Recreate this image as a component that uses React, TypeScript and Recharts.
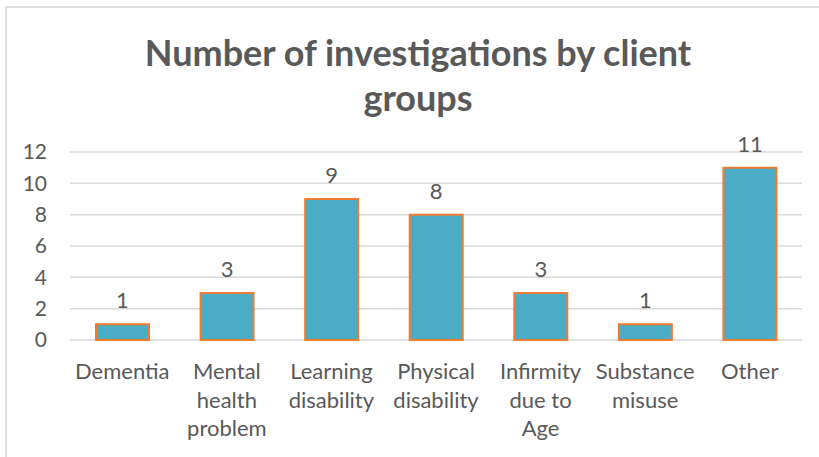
import { Bar, BarChart, CartesianGrid, LabelList, XAxis, YAxis } from 'recharts';

const categories = [
    'Dementia',
    'Mental health problem',
    'Learning disability',
    'Physical disability',
    'Infirmity due to Age',
    'Substance misuse',
    'Other',
];
const investigations = [1, 3, 9, 8, 3, 1, 11];
const yTicks = [0, 2, 4, 6, 8, 10, 12];
const titleLines = ['Number of investigations by client', 'groups'];

const data = categories.map((name, i) => ({ name, value: investigations[i] }));

const FONT = 'Lato, "Open Sans", sans-serif';
const TEXT = '#595959';

// simple word wrap, roughly like Excel does in the narrow category slots
function wrap(label: string, maxChars = 9) {
    const lines: string[] = [];
    let cur = '';
    for (const w of label.split(' ')) {
        const next = cur ? cur + ' ' + w : w;
        if (next.length > maxChars && cur) {
            lines.push(cur);
            cur = w;
        } else {
            cur = next;
        }
    }
    if (cur) lines.push(cur);
    return lines;
}

function CategoryTick(props: any) {
    const { x, y, payload } = props;
    const lines = wrap(String(payload.value));
    return (
        <text x={x} y={y} textAnchor="middle" fill={TEXT} fontSize={22} fontFamily={FONT}>
            {lines.map((l, i) => (
                <tspan key={i} x={x} y={y + 31 + i * 28.5}>
                    {l}
                </tspan>
            ))}
        </text>
    );
}

export default function App() {
    return (
        <div style={{ position: 'absolute', left: 0, top: 0, width: 819, height: 457, background: '#fff' }}>
            <div
                style={{
                    position: 'absolute',
                    left: 5,
                    top: 6,
                    right: 0,
                    bottom: 0,
                    borderTop: '2px solid #e0e0e0',
                    borderLeft: '2px solid #e0e0e0',
                }}
            />
            <div
                style={{
                    position: 'absolute',
                    left: 0,
                    top: 30,
                    width: 836,
                    textAlign: 'center',
                    fontFamily: FONT,
                    fontWeight: 700,
                    fontSize: 36,
                    lineHeight: '45px',
                    color: TEXT,
                }}
            >
                {titleLines.map((t, i) => (
                    <div key={i}>{t}</div>
                ))}
            </div>
            <div style={{ position: 'absolute', left: 0, top: 0 }}>
                <BarChart width={819} height={457} data={data} margin={{ top: 152, right: 17, bottom: 7, left: 10 }}>
                    <CartesianGrid vertical={false} stroke="#d9d9d9" strokeWidth={1.5} />
                    <XAxis
                        dataKey="name"
                        axisLine={false}
                        tickLine={false}
                        height={110}
                        interval={0}
                        tick={<CategoryTick />}
                    />
                    <YAxis
                        domain={[0, 12]}
                        ticks={yTicks}
                        axisLine={false}
                        tickLine={false}
                        tickSize={0}
                        tickMargin={23}
                        width={60}
                        tick={{ fill: TEXT, fontSize: 21, fontFamily: FONT }}
                    />
                    <Bar dataKey="value" fill="#4bacc6" stroke="#ed7d31" strokeWidth={2} barSize={53} isAnimationActive={false}>
                        <LabelList dataKey="value" position="top" offset={16} fill={TEXT} fontSize={22} fontFamily={FONT} />
                    </Bar>
                </BarChart>
            </div>
        </div>
    );
}
